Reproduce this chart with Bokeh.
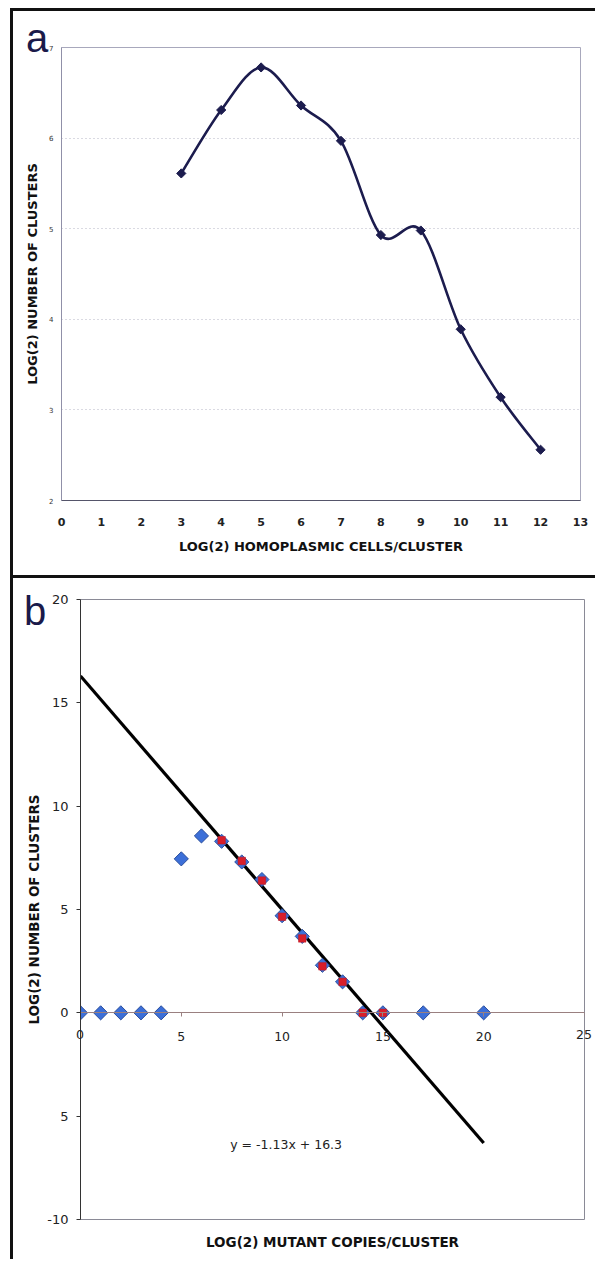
import numpy as np
from bokeh.plotting import figure
from bokeh.models import Range1d, LinearAxis, FixedTicker, Label, Title, Div
from bokeh.embed import file_html
from bokeh.resources import INLINE

# ---------------- data: panel a ----------------
a_x = [3, 4, 5, 6, 7, 8, 9, 10, 11, 12]
a_y = [5.61, 6.31, 6.78, 6.36, 5.97, 4.93, 4.98, 3.89, 3.14, 2.56]
a_xticks = list(range(0, 14))
a_yticks = [2, 3, 4, 5, 6, 7]

# ---------------- data: panel b ----------------
b_blue_x = [0, 1, 2, 3, 4, 5, 6, 7, 8, 9, 10, 11, 12, 13, 14, 15, 17, 20]
b_blue_y = [0, 0, 0, 0, 0, 7.45, 8.56, 8.3, 7.3, 6.45, 4.7, 3.7, 2.3, 1.5, 0, 0, 0, 0]
b_red_x = [7, 8, 9, 10, 11, 12, 13, 14, 15]
b_red_y = [8.35, 7.35, 6.4, 4.65, 3.6, 2.25, 1.5, 0, 0]
trend_slope = -1.13
trend_intercept = 16.3
trend_x = [0, 20]
b_xticks = [0, 5, 10, 15, 20, 25]
b_yticks = [20, 15, 10, 5, 0, -5, -10]
b_ytick_labels = {20: "20", 15: "15", 10: "10", 5: "5", 0: "0", -5: "5", -10: "-10"}

FONT = "DejaVu Sans"
FRAME_STYLE = "3px solid #111111"


def abs_text(text, left, top, width, height, css):
    html = '<span style="%s">%s</span>' % (css, text)
    return Div(text=html, width=width, height=height,
               styles={"position": "absolute", "left": "%dpx" % left,
                       "top": "%dpx" % top, "z-index": "10", "margin": "0",
                       "padding": "0", "text-align": "center"})


LETTER_CSS = ("font-family: 'Liberation Sans', Arial, sans-serif; font-size: 40px; "
              "line-height: 40px; color: #1a1a4a;")
TICK_CSS = ("font-family: 'DejaVu Sans', sans-serif; font-size: 12.5px; "
            "line-height: 16px; color: #222222; display: block; text-align: center;")

# ================= panel a =================
pa = figure(width=585, height=567, x_range=Range1d(0, 13), y_range=Range1d(2, 7),
            output_backend="svg", toolbar_location=None,
            min_border_left=48, min_border_right=18, min_border_top=36, min_border_bottom=78,
            styles={"margin-left": "10px", "margin-top": "8px",
                    "border-top": FRAME_STYLE, "border-left": FRAME_STYLE})
pa.background_fill_color = "white"
pa.outline_line_color = "#a8a8bc"
pa.outline_line_width = 1

pa.xgrid.grid_line_color = None
pa.ygrid.grid_line_color = "#b4b4c4"
pa.ygrid.grid_line_dash = "1 3"
pa.ygrid.ticker = FixedTicker(ticks=a_yticks)

pa.xaxis.ticker = FixedTicker(ticks=a_xticks)
pa.yaxis.ticker = FixedTicker(ticks=a_yticks)
pa.xaxis.axis_line_color = "#55556a"
pa.yaxis.axis_line_color = "#9090a8"
for ax in (pa.xaxis[0], pa.yaxis[0]):
    ax.major_tick_line_color = None
    ax.minor_tick_line_color = None
    ax.major_tick_out = 0
    ax.major_tick_in = 0
    ax.minor_tick_out = 0
    ax.minor_tick_in = 0
pa.xaxis.major_label_text_font = FONT
pa.xaxis.major_label_text_font_size = "11px"
pa.xaxis.major_label_text_font_style = "bold"
pa.xaxis.major_label_text_color = "#222222"
pa.xaxis.major_label_standoff = 17
pa.yaxis.major_label_text_font = FONT
pa.yaxis.major_label_text_font_size = "7px"
pa.yaxis.major_label_text_color = "#333333"
pa.yaxis.major_label_standoff = 8

pa.xaxis.axis_label = "LOG(2) HOMOPLASMIC CELLS/CLUSTER"
pa.yaxis.axis_label = "LOG(2) NUMBER OF CLUSTERS"
for ax in (pa.xaxis[0], pa.yaxis[0]):
    ax.axis_label_text_font = FONT
    ax.axis_label_text_font_size = "13px"
    ax.axis_label_text_font_style = "bold"
    ax.axis_label_text_color = "#111111"
pa.xaxis.axis_label_standoff = 10
pa.yaxis.axis_label_standoff = 6

# smoothed line (Catmull-Rom -> cubic Bezier, like a spreadsheet "smoothed line")
xs = np.array(a_x, dtype=float)
ys = np.array(a_y, dtype=float)
n = len(xs)
x0, y0, x1, y1, cx0, cy0, cx1, cy1 = [], [], [], [], [], [], [], []
for i in range(n - 1):
    im, ip2 = max(i - 1, 0), min(i + 2, n - 1)
    x0.append(xs[i]); y0.append(ys[i]); x1.append(xs[i + 1]); y1.append(ys[i + 1])
    cx0.append(xs[i] + (xs[i + 1] - xs[im]) / 6.0)
    cy0.append(ys[i] + (ys[i + 1] - ys[im]) / 6.0)
    cx1.append(xs[i + 1] - (xs[ip2] - xs[i]) / 6.0)
    cy1.append(ys[i + 1] - (ys[ip2] - ys[i]) / 6.0)
pa.bezier(x0=x0, y0=y0, x1=x1, y1=y1, cx0=cx0, cy0=cy0, cx1=cx1, cy1=cy1,
          line_color="#1c1c4e", line_width=2.6)
pa.scatter(a_x, a_y, marker="square", angle=np.pi / 4, size=6.5,
           fill_color="#1c1c4e", line_color="#1c1c4e")

# ================= panel b =================
pb = figure(width=585, height=684, x_range=Range1d(0, 25), y_range=Range1d(-10, 20),
            output_backend="svg", toolbar_location=None, x_axis_location=None,
            min_border_left=67, min_border_right=14, min_border_top=21, min_border_bottom=41,
            styles={"margin-left": "10px", "border-top": FRAME_STYLE,
                    "border-left": FRAME_STYLE})
pb.background_fill_color = "white"
pb.outline_line_color = "#8a8a96"
pb.outline_line_width = 1
pb.xgrid.grid_line_color = None
pb.ygrid.grid_line_color = None

# end labels (0 and 25) sit on the frame edge; a fixed-location axis is clipped
# to the frame, so those two are placed as page text below
xax = LinearAxis(fixed_location=0, ticker=FixedTicker(ticks=b_xticks))
xax.major_label_overrides = {b_xticks[0]: "", b_xticks[-1]: ""}
xax.axis_line_color = "#9a8080"
xax.axis_line_width = 1
xax.major_tick_line_color = "#9a8080"
xax.major_tick_out = 4
xax.major_tick_in = 0
xax.minor_tick_line_color = None
xax.major_label_text_font = FONT
xax.major_label_text_font_size = "12.5px"
xax.major_label_text_color = "#222222"
xax.major_label_standoff = 15
pb.add_layout(xax, "below")

pb.yaxis.ticker = FixedTicker(ticks=b_yticks)
pb.yaxis.major_label_overrides = b_ytick_labels
pb.yaxis.axis_line_color = "#333333"
pb.yaxis.major_tick_line_color = "#333333"
pb.yaxis.major_tick_out = 4
pb.yaxis.major_tick_in = 0
pb.yaxis.minor_tick_line_color = None
pb.yaxis.major_label_text_font = FONT
pb.yaxis.major_label_text_font_size = "13px"
pb.yaxis.major_label_text_color = "#222222"
pb.yaxis.major_label_standoff = 8
pb.yaxis.axis_label = "LOG(2) NUMBER OF CLUSTERS"
pb.yaxis.axis_label_text_font = FONT
pb.yaxis.axis_label_text_font_size = "13.5px"
pb.yaxis.axis_label_text_font_style = "bold"
pb.yaxis.axis_label_text_color = "#111111"
pb.yaxis.axis_label_standoff = 2

pb.add_layout(Title(text="LOG(2) MUTANT COPIES/CLUSTER", align="center",
                    text_font=FONT, text_font_size="13.5px", text_font_style="bold",
                    text_color="#111111", standoff=25), "below")

tx = np.array(trend_x, dtype=float)
pb.line(tx, trend_slope * tx + trend_intercept, line_color="black", line_width=3.2)

pb.scatter(b_blue_x, b_blue_y, marker="square", angle=np.pi / 4, size=10,
           fill_color="#3c6fd8", line_color="#2c4f9c", line_width=1)
pb.scatter(b_red_x, b_red_y, marker="square", size=7.5,
           fill_color="#d81e2a", line_color="#c01822", line_width=0.5)

pb.add_layout(Label(x=10.2, y=-6.35, text="y = -1.13x + 16.3", text_font=FONT,
                    text_font_size="12.5px", text_color="#222222",
                    text_align="center", text_baseline="middle"))

div_a = abs_text("a", 22, 18, 30, 44, LETTER_CSS)
div_b = abs_text("b", 20, 591, 30, 44, LETTER_CSS)
div_x0 = abs_text(str(b_xticks[0]), 65, 1027, 30, 16, TICK_CSS)
div_x25 = abs_text(str(b_xticks[-1]), 569, 1027, 30, 16, TICK_CSS)

open("out.html", "w").write(file_html([pa, pb, div_a, div_b, div_x0, div_x25], INLINE))
